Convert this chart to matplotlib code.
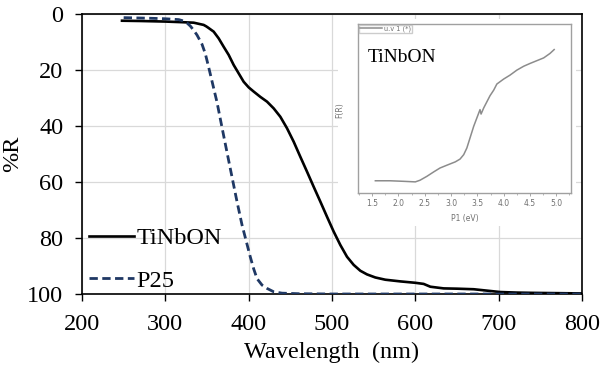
import matplotlib
matplotlib.use("Agg")
import matplotlib.pyplot as plt
from matplotlib.patches import Rectangle

# ---- main data (wavelength nm, %R) ----
tinbon_nm = [248, 270, 300, 318, 334, 346, 349, 351, 358, 364, 370, 376, 382, 388, 394, 400,
             406, 414, 422, 430, 438, 446, 454, 462, 470, 478, 486, 494, 502, 510, 518, 526,
             534, 542, 552, 564, 582, 600, 610, 618, 634, 650, 670, 686, 702, 722, 742, 800]
tinbon_r = [2.4, 2.5, 2.7, 2.9, 3.1, 3.9, 4.4, 4.8, 6.3, 8.7, 11.7, 14.6, 18.2, 21.2, 24.2, 26.2,
            27.7, 29.6, 31.3, 33.7, 36.7, 40.8, 45.6, 51.0, 56.3, 61.7, 67.0, 72.4, 77.7, 82.5, 86.7, 89.6,
            91.7, 93.0, 94.1, 94.9, 95.5, 96.0, 96.4, 97.4, 98.0, 98.1, 98.3, 98.8, 99.3, 99.5, 99.6, 99.8]

p25_nm = [250, 280, 300, 316, 322, 326, 330, 334, 338, 344, 348, 352, 356, 362, 368, 374, 380,
          386, 392, 398, 402, 406, 410, 416, 422, 430, 440, 460, 500, 600, 700, 800]
p25_r = [1.3, 1.5, 1.7, 2.0, 2.5, 3.2, 4.3, 5.8, 7.5, 10.8, 14.2, 19.0, 24.0, 31.5, 40.5, 49.4, 58.2,
         67.0, 75.3, 82.2, 86.8, 91.0, 94.5, 96.8, 98.0, 99.2, 99.7, 99.9, 100.0, 100.0, 100.0, 100.0]

# ---- inset data (eV, F(R)) ----
inset_ev = [1.56, 1.84, 2.10, 2.32, 2.41, 2.54, 2.67, 2.79, 2.92, 3.08, 3.17, 3.24, 3.30, 3.36,
            3.43, 3.49, 3.55, 3.57, 3.62, 3.68, 3.74, 3.81, 3.87, 4.00, 4.12, 4.25, 4.38, 4.50,
            4.63, 4.76, 4.88, 4.96]
inset_f = [0.01, 0.01, 0.0, -0.01, 0.02, 0.09, 0.17, 0.24, 0.29, 0.35, 0.40, 0.48, 0.60, 0.78,
           0.99, 1.14, 1.29, 1.21, 1.32, 1.43, 1.54, 1.64, 1.75, 1.84, 1.91, 2.00, 2.07, 2.12,
           2.17, 2.22, 2.30, 2.37]

x_ticks = [200, 300, 400, 500, 600, 700, 800]
y_ticks = [0, 20, 40, 60, 80, 100]
inset_xticks = [1.5, 2.0, 2.5, 3.0, 3.5, 4.0, 4.5, 5.0]

serif = ["Liberation Serif", "DejaVu Serif"]
FS = 17.5
W, H = 606, 373
fig = plt.figure(figsize=(W / 100, H / 100), dpi=100)

ax = fig.add_axes([82 / W, 1 - 294 / H, 500 / W, 280 / H])
ax.plot(tinbon_nm, tinbon_r, color="black", lw=1.9, label="TiNbON", zorder=3,
        solid_joinstyle="round")
ax.plot(p25_nm, p25_r, color="#1F3864", lw=2.0, ls=(0, (3.0, 1.6)), label="P25", zorder=3)
ax.set_xlim(200, 800)
ax.set_ylim(100, 0)
ax.set_xticks(x_ticks)
ax.set_yticks(y_ticks)
ax.grid(True, color="#d9d9d9", lw=0.9, zorder=0)
ax.set_axisbelow(True)
for s in ax.spines.values():
    s.set_color("black")
    s.set_linewidth(1.2)
ax.tick_params(direction="out", length=5, width=1.0, colors="black", labelsize=FS)
ax.tick_params(axis="y", pad=8.5)
ax.tick_params(axis="x", pad=9.5)
for lab in ax.get_xticklabels() + ax.get_yticklabels():
    lab.set_family(serif)
ax.set_xlabel("Wavelength  (nm)", fontsize=FS, family=serif, labelpad=5)
ax.set_ylabel("%R", fontsize=FS, family=serif, labelpad=3)

leg = ax.legend(loc="lower left", bbox_to_anchor=(-0.005, -0.027), frameon=False,
                prop={"family": serif, "size": FS}, handlelength=1.85, handletextpad=0.1,
                labelspacing=0.85, borderaxespad=0.0)

# white area of the inset picture
ax.add_patch(Rectangle((338 / W, 1 - 226 / H), 238 / W, 207 / H, transform=fig.transFigure,
                       facecolor="white", edgecolor="none", zorder=5, clip_on=False))

# ---- inset ----
ax2 = fig.add_axes([358 / W, 1 - 193 / H, 213 / W, 169 / H])
ax2.set_zorder(6)
ax2.plot(inset_ev, inset_f, color="#8c8c8c", lw=1.1, label="u.v 1 (*)")
ax2.set_xlim(1.23, 5.28)
ax2.set_ylim(-0.21, 2.83)
ax2.set_xticks(inset_xticks)
ax2.set_xticklabels([f"{v:.1f}" for v in inset_xticks])
ax2.set_yticks([])
ax2.tick_params(axis="x", direction="out", length=2.5, width=0.6, colors="#9a9a9a",
                labelsize=5.5, labelcolor="#707070", pad=2)
ax2.set_xticks([1.25 + 0.25 * i for i in range(17)], minor=True)
ax2.tick_params(axis="x", which="minor", direction="out", length=1.5, width=0.5, colors="#9a9a9a")
for s in ax2.spines.values():
    s.set_color("#a0a0a0")
    s.set_linewidth(1.0)
ax2.set_xlabel("P1 (eV)", fontsize=5.5, color="#707070", labelpad=4)
ax2.set_ylabel("F(R)", fontsize=5.5, color="#707070")
ax2.yaxis.set_label_coords(-0.065, 0.49)
ax2.text(0.045, 0.80, "TiNbON", transform=ax2.transAxes, fontsize=14, family=serif,
         va="center", ha="left", color="black")
ax2.legend(loc="upper left", prop={"size": 4.8}, frameon=True, fancybox=False,
           edgecolor="#c0c0c0", handlelength=3.3, borderpad=0.15, borderaxespad=0.1,
           handletextpad=0.4, labelcolor="#707070")

fig.savefig("out.png", dpi=100)
